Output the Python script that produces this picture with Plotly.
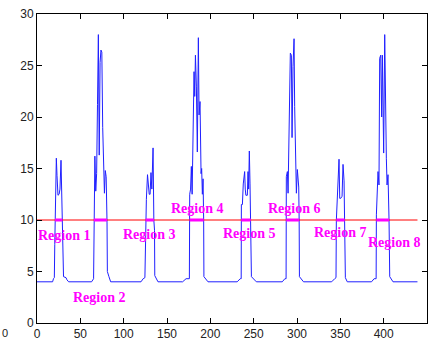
import plotly.graph_objects as go

# ---- data ----
sig_x = [0, 18, 19, 20, 20.5, 21.5, 22.3, 23.1, 24.2, 25.5, 26.5, 27.7, 28.5, 29.3, 30.0, 30.6, 33.5, 34.5, 36.5,
         63, 65.3, 65.8, 66.8, 67.8, 68.8, 69.8, 70.8, 71.8, 72.8, 73.8, 74.8, 75.8, 76.8, 77.8, 78.8, 79.8, 80.8, 81.2, 83, 85,
         120, 122.5, 124.5, 125.4, 126.2, 127.5, 128.5, 129.5, 130.5, 131.5, 132.5, 133.9, 134.8, 135.6, 135.9, 139.6,
         168, 172, 175.8, 176.2, 177.2, 178.1, 179.0, 180.0, 181.2, 182.0, 182.8, 183.9, 185.0, 186.2, 187.0, 188.1, 189.3, 190.0, 190.8, 191.6, 192.3, 192.6, 197.3,
         231, 234.5, 235.6, 235.8, 237.0, 238.0, 239.6, 240.3, 241.0, 242.7, 243.5, 244.2, 245.0, 245.8, 246.6, 247.4, 253.1,
         283, 286, 287.4, 287.7, 288.9, 289.7, 290.8, 292.3, 293.5, 294.3, 295.4, 296.6, 297.3, 298.5, 299.3, 300.4, 301.2, 302.0, 302.5, 302.8, 307.5,
         340, 343.5, 345.0, 345.4, 346.3, 347.3, 348.5, 349.3, 350.4, 352.0, 353.1, 354.3, 355.0, 355.8, 358,
         386, 389, 391.3, 391.6, 392.4, 393.5, 394.6, 395.4, 396.6, 397.7, 398.5, 399.3, 400.0, 401.2, 401.9, 403.1, 403.9, 405.0, 406.2, 407.0, 410.8, 439]
sig_y = [4.0, 4.0, 4.3, 4.4, 7.6, 13.0, 16.0, 14.3, 12.4, 12.5, 13.0, 15.8, 13.2, 9.5, 7.6, 4.5, 4.4, 4.2, 4.0,
         4.0, 4.3, 12.5, 16.2, 12.8, 14.5, 21.2, 28.0, 16.3, 25.3, 26.5, 26.3, 19.0, 15.5, 12.6, 14.8, 14.2, 9.8, 5.0, 4.5, 4.0,
         4.0, 4.3, 4.4, 10.0, 12.0, 14.4, 13.3, 12.5, 12.5, 14.6, 13.0, 17.0, 10.0, 9.0, 4.6, 4.0,
         4.0, 4.3, 4.3, 12.5, 13.0, 15.2, 12.5, 17.3, 24.4, 22.0, 26.0, 23.0, 16.6, 27.7, 20.2, 21.5, 14.5, 15.0, 12.5, 14.0, 10.0, 4.5, 4.0,
         4.0, 4.3, 4.3, 11.5, 11.5, 13.5, 14.7, 13.0, 12.4, 12.4, 14.7, 13.0, 16.7, 13.5, 10.0, 4.5, 4.0,
         4.0, 4.3, 4.3, 14.2, 14.7, 12.6, 19.3, 26.2, 26.0, 18.0, 24.9, 27.6, 21.0, 16.0, 12.6, 14.9, 13.2, 13.2, 9.9, 4.5, 4.0,
         4.0, 4.3, 4.4, 10.0, 11.5, 14.1, 15.9, 12.1, 12.1, 12.3, 15.4, 13.8, 10.0, 4.4, 4.0,
         4.0, 4.3, 4.3, 10.5, 12.5, 14.7, 13.4, 25.7, 26.0, 20.0, 26.0, 22.0, 16.5, 28.0, 21.2, 16.0, 13.4, 14.4, 10.0, 4.5, 4.0, 4.0]
threshold = 10

region_labels = ["Region 1", "Region 2", "Region 3", "Region 4", "Region 5", "Region 6", "Region 7", "Region 8"]
region_x = [32.3, 72, 130, 184.8, 244.7, 297.5, 350, 412]
region_y = [8.5, 2.5, 8.6, 11.1, 8.7, 11.1, 8.8, 7.8]

x_ticks = [0, 50, 100, 150, 200, 250, 300, 350, 400, 450]
y_ticks = [0, 5, 10, 15, 20, 25, 30]

# ---- threshold crossing intervals (computed from the signal) ----
mag_x, mag_y = [], []
start = None
for i in range(1, len(sig_x)):
    x0, y0, x1, y1 = sig_x[i-1], sig_y[i-1], sig_x[i], sig_y[i]
    if y0 < threshold <= y1:
        start = x0 + (threshold - y0) * (x1 - x0) / (y1 - y0)
    elif y0 >= threshold > y1 and start is not None:
        end = x0 + (threshold - y0) * (x1 - x0) / (y1 - y0)
        mag_x += [start, end, None]
        mag_y += [threshold, threshold, None]
        start = None

fig = go.Figure()
fig.add_trace(go.Scatter(x=sig_x, y=sig_y, mode="lines",
                         line=dict(color="#2020ff", width=1), showlegend=False))
fig.add_trace(go.Scatter(x=[sig_x[0], sig_x[-1]], y=[threshold, threshold], mode="lines",
                         line=dict(color="#ff0000", width=1), showlegend=False))
fig.add_trace(go.Scatter(x=mag_x, y=mag_y, mode="lines",
                         line=dict(color="#ff00ff", width=3), showlegend=False))

for t, xx, yy in zip(region_labels, region_x, region_y):
    fig.add_annotation(x=xx, y=yy, text="<b>%s</b>" % t, showarrow=False,
                       font=dict(family="Liberation Serif", size=14, color="#ff00ff"),
                       xanchor="center", yanchor="middle")

# small "0" at the lower-left edge
fig.add_annotation(xref="paper", yref="paper", x=-0.095, y=-0.032, text="0", showarrow=False,
                   xanchor="left", yanchor="middle",
                   font=dict(family="Liberation Sans", size=11, color="#222222"))

axis_common = dict(showline=True, linecolor="#000000", linewidth=1, mirror="ticks",
                   ticks="inside", ticklen=5, tickcolor="#000000", showgrid=False, zeroline=False,
                   automargin=False,
                   tickfont=dict(family="Liberation Sans", size=12, color="#222222"))
fig.update_xaxes(range=[0, 450], tickvals=x_ticks, **axis_common)
fig.update_yaxes(range=[0, 30], tickvals=y_ticks, **axis_common)

fig.update_layout(width=437, height=341, margin=dict(l=37, r=10, t=14, b=18),
                  paper_bgcolor="white", plot_bgcolor="white")

fig.write_html("out.html")
